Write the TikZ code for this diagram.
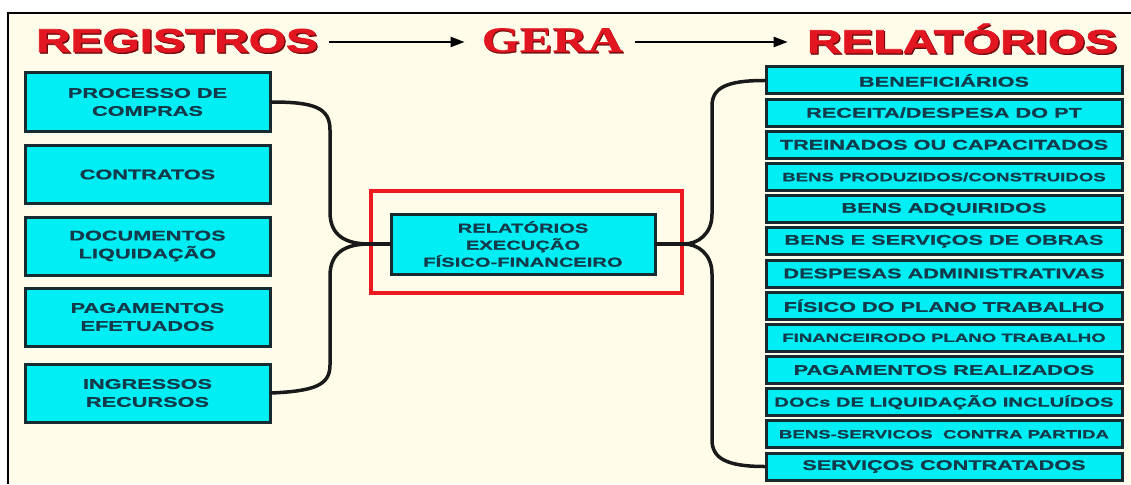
\documentclass[tikz,border=0pt]{standalone}
\usepackage{fontspec}
\usetikzlibrary{arrows.meta}
\setmainfont{Liberation Sans}
\newfontfamily\boxfont{Liberation Sans Bold}[FakeStretch=1.55,FakeBold=0.8]
\newfontfamily\headfont{Liberation Sans Bold}[FakeStretch=1.45,FakeBold=2.2]
\newfontfamily\gerafont{Liberation Serif Bold}[FakeStretch=1.36,FakeBold=0.6]

\definecolor{paper}{RGB}{255,253,234}
\definecolor{boxcyan}{RGB}{0,238,244}
\definecolor{boxline}{RGB}{22,42,48}
\definecolor{boxink}{RGB}{18,58,74}
\definecolor{titlered}{RGB}{226,22,32}
\definecolor{titleshade}{RGB}{110,10,14}
\definecolor{framered}{RGB}{236,26,32}

\tikzset{
  regbox/.style={draw=boxline, line width=3pt, fill=boxcyan, text=boxink,
    minimum width=245pt, minimum height=58pt, align=center, inner sep=0pt,
    font={\boxfont\fontsize{14}{18}\selectfont}},
  relbox/.style={draw=boxline, line width=3pt, fill=boxcyan, text=boxink,
    minimum width=356pt, minimum height=27pt, align=center, inner sep=0pt,
    font={\boxfont\fontsize{14}{16}\selectfont}},
  smalltxt/.style={font={\boxfont\fontsize{12}{14}\selectfont}},
  midtxt/.style={font={\boxfont\fontsize{13}{15}\selectfont}},
  corebox/.style={draw=boxline, line width=3pt, fill=boxcyan, text=boxink,
    minimum width=264pt, minimum height=60pt, align=center, inner sep=0pt,
    font={\boxfont\fontsize{13}{17}\selectfont}},
  hubframe/.style={draw=framered, line width=3.2pt, minimum width=311pt,
    minimum height=102pt, inner sep=0pt},
  headtxt/.style={inner sep=0pt, anchor=base, font={\headfont\fontsize{33}{33}\selectfont}},
  geratxt/.style={inner sep=0pt, anchor=base, font={\gerafont\fontsize{36}{36}\selectfont}},
  headarrow/.style={line width=2.2pt, draw=black, -{Triangle[length=14pt,width=10pt]}},
  conn/.style={line width=3.5pt, draw=black!90, line cap=round}
}

\begin{document}
\begin{tikzpicture}[x=1pt,y=-1pt]
\useasboundingbox (0,0) rectangle (1131,484);
% sheet and its frame
\fill[white] (0,0) rectangle (1131,484);
\fill[paper] (8,13) rectangle (1131,484);
\draw[line width=1.5pt] (8,484) -- (8,13) -- (1131,13);

% headings
\node[headtxt, text=titleshade] at (178.3,53.3) {REGISTROS};
\node[headtxt, text=titlered] (regt) at (177,52) {REGISTROS};
\node[geratxt, text=titleshade] at (553.3,53.3) {GERA};
\node[geratxt, text=titlered] (gera) at (552.5,52) {GERA};
\node[headtxt, text=titleshade] at (963.3,54.3) {RELATÓRIOS};
\node[headtxt, text=titlered] (relt) at (962,53) {RELATÓRIOS};
\coordinate (hl) at (0,42);
\draw[headarrow, shorten <=11pt, shorten >=17pt] (regt.east |- hl) -- (gera.west |- hl);
\draw[headarrow, shorten <=12pt, shorten >=19pt] (gera.east |- hl) -- (relt.west |- hl);

% records
\node[regbox] (lb1) at (147.5,102) {PROCESSO DE\\COMPRAS};
\node[regbox] (lb2) at (147.5,174.5) {CONTRATOS};
\node[regbox] (lb3) at (147.5,246) {DOCUMENTOS\\LIQUIDAÇÃO};
\node[regbox] (lb4) at (147.5,317) {PAGAMENTOS\\EFETUADOS};
\node[regbox] (lb5) at (147.5,393) {INGRESSOS\\RECURSOS};

% central report
\node[hubframe] (frame) at (526.5,242) {};
\node[corebox] (core) at (523,244) {RELATÓRIOS\\EXECUÇÃO\\FÍSICO-FINANCEIRO};
\coordinate (J1) at (frame.west |- core.west);
\coordinate (J2) at (frame.east |- core.east);

% reports
\node[relbox] (rb1) at (944,80.5) {BENEFICIÁRIOS};
\node[relbox] (rb2) at (944,112.7) {RECEITA/DESPESA DO PT};
\node[relbox] (rb3) at (944,144.8) {TREINADOS OU CAPACITADOS};
\node[relbox, smalltxt] (rb4) at (944,177.0) {BENS PRODUZIDOS/CONSTRUIDOS};
\node[relbox] (rb5) at (944,209.2) {BENS ADQUIRIDOS};
\node[relbox] (rb6) at (944,241.3) {BENS E SERVIÇOS DE OBRAS};
\node[relbox] (rb7) at (944,273.5) {DESPESAS ADMINISTRATIVAS};
\node[relbox] (rb8) at (944,305.7) {FÍSICO DO PLANO TRABALHO};
\node[relbox, smalltxt] (rb9) at (944,337.8) {FINANCEIRODO PLANO TRABALHO};
\node[relbox] (rb10) at (944,370.0) {PAGAMENTOS REALIZADOS};
\node[relbox, midtxt] (rb11) at (944,402.2) {DOCs DE LIQUIDAÇÃO INCLUÍDOS};
\node[relbox, smalltxt] (rb12) at (944,434.3) {BENS-SERVICOS\ \ CONTRA PARTIDA};
\node[relbox] (rb13) at (944,466.5) {SERVIÇOS CONTRATADOS};

% brace-like connectors on the left
\draw[conn] (lb1.east) .. controls (315,102) and (330,108) .. (330,130)
  -- (330,212) .. controls (330,236) and (346,244) .. (J1);
\draw[conn] (lb5.east) .. controls (315,391) and (330,385) .. (330,365)
  -- (330,276) .. controls (330,252) and (346,244) .. (J1);
\draw[conn] (J1) -- (core.west);

% brace-like connectors on the right
\draw[conn] (core.east) -- (J2);
\draw[conn] (J2) .. controls (698,244) and (712,234) .. (712,214)
  -- (712,106) .. controls (712,88) and (726,80.5) .. (rb1.west);
\draw[conn] (J2) .. controls (698,244) and (712,254) .. (712,274)
  -- (712,440) .. controls (712,458) and (726,466.5) .. (rb13.west);
\end{tikzpicture}
\end{document}
